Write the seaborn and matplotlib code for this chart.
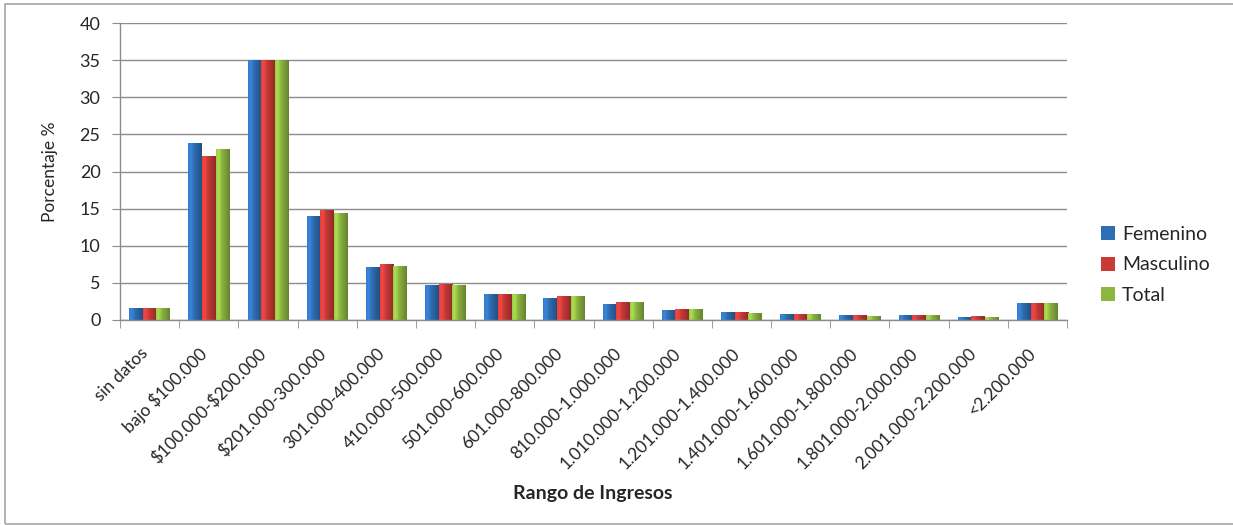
import matplotlib
matplotlib.use("Agg")
import matplotlib.pyplot as plt
from matplotlib.patches import Rectangle
from matplotlib.colors import to_rgb
from matplotlib.ticker import FixedLocator, MultipleLocator
from matplotlib.transforms import ScaledTranslation, blended_transform_factory
import numpy as np
import pandas as pd
import seaborn as sns

rangos = [
    "sin datos", "bajo $100.000", "$100.000-$200.000", "$201.000-300.000",
    "301.000-400.000", "410.000-500.000", "501.000-600.000", "601.000-800.000",
    "810.000-1.000.000", "1.010.000-1.200.000", "1.201.000-1.400.000",
    "1.401.000-1.600.000", "1.601.000-1.800.000", "1.801.000-2.000.000",
    "2.001.000-2.200.000", "<2.200.000",
]
femenino = [1.6, 23.8, 34.9, 14.0, 7.1, 4.6, 3.4, 2.9, 2.1, 1.3, 0.95, 0.75, 0.55, 0.55, 0.4, 2.2]
masculino = [1.6, 22.0, 35.0, 14.8, 7.5, 4.8, 3.4, 3.2, 2.3, 1.4, 1.0, 0.8, 0.55, 0.6, 0.5, 2.2]
total = [1.6, 22.9, 35.0, 14.4, 7.2, 4.7, 3.4, 3.1, 2.3, 1.4, 0.9, 0.8, 0.5, 0.55, 0.4, 2.2]
series = ["Femenino", "Masculino", "Total"]
colores = ["#2F6EB5", "#C93A37", "#8DB641"]

df = pd.DataFrame({
    "Rango": rangos * 3,
    "Serie": np.repeat(series, len(rangos)),
    "Porcentaje": femenino + masculino + total,
})

sns.set_style("white")
plt.rcParams["font.family"] = ["Lato", "DejaVu Sans"]

fig = plt.figure(figsize=(12.33, 5.25), dpi=100)
ax = fig.add_axes([120 / 1233, 1 - 320 / 525, (1067 - 120) / 1233, (320 - 23) / 525])

sns.barplot(data=df, x="Rango", y="Porcentaje", hue="Serie", order=rangos,
            hue_order=series, palette=colores, width=0.69, saturation=1,
            edgecolor="none", ax=ax, legend=True)

# cylinder-like shading across each bar
shade = np.concatenate([np.linspace(1.12, 1.22, 6), np.linspace(1.2, 0.95, 10),
                        np.linspace(0.95, 0.72, 16)])
for bar in list(ax.patches):
    h = bar.get_height()
    if not np.isfinite(h) or h <= 0:
        continue
    base = np.array(to_rgb(bar.get_facecolor()))
    img = np.clip(shade[None, :, None] * base[None, None, :], 0, 1)
    x0, w = bar.get_x(), bar.get_width()
    ax.imshow(img, extent=[x0, x0 + w, 0, h], aspect="auto", origin="lower",
              zorder=bar.get_zorder() + 0.1, interpolation="bilinear")

grid_c = "#8C8C8C"
ax.set_ylim(0, 40)
ax.set_xlim(-0.5, len(rangos) - 0.5)
ax.set_aspect("auto")
ax.yaxis.set_major_locator(MultipleLocator(5))
ax.grid(axis="y", color=grid_c, linewidth=1)
ax.set_axisbelow(True)
for s in ["top", "right"]:
    ax.spines[s].set_visible(False)
for s in ["left", "bottom"]:
    ax.spines[s].set_color(grid_c)
    ax.spines[s].set_linewidth(1)

ax.tick_params(axis="y", left=True, length=6, color=grid_c, labelsize=13, pad=8)

# category labels, rotated and hanging below the axis
ax.set_xticks(range(len(rangos)))
ax.set_xticklabels([])
ax.tick_params(axis="x", which="major", length=0)
label_tr = blended_transform_factory(ax.transData, ax.transAxes) + \
    ScaledTranslation(-4 / 100, -31 / 100, fig.dpi_scale_trans)
for i, lab in enumerate(rangos):
    ax.text(i, 0, lab, transform=label_tr, rotation=45, ha="right", va="center",
            rotation_mode="anchor", fontsize=12.5, parse_math=False, clip_on=False)
ax.xaxis.set_minor_locator(FixedLocator(np.arange(-0.5, len(rangos), 1.0)))
ax.tick_params(axis="x", which="minor", bottom=True, length=6, color=grid_c)

ax.set_ylabel("Porcentaje %", fontsize=12.5)
ax.yaxis.set_label_coords((58 - 120) / 947, (320 - 172) / 297)
ax.set_xlabel("")
fig.text(593 / 1233, 1 - 493 / 525, "Rango de Ingresos", ha="center", va="center",
         fontsize=14, fontweight="bold")

handles, labels = ax.get_legend_handles_labels()
ax.get_legend().remove()
fig.legend(handles, labels, loc="center left", bbox_to_anchor=(1083 / 1233, 1 - 265 / 525),
           frameon=False, fontsize=14, handlelength=0.75, handleheight=0.75,
           handletextpad=0.35, labelspacing=0.7)

fig.add_artist(Rectangle((5 / 1233, 1 - 524 / 525), 1.2, 520 / 525,
                         transform=fig.transFigure, fill=False,
                         edgecolor="#A6A6A6", linewidth=1.2))

fig.savefig("out.png", dpi=100, facecolor="white")
